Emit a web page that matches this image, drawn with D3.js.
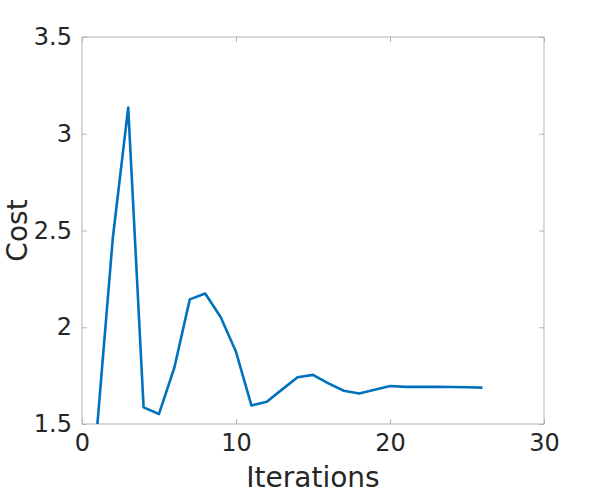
<!DOCTYPE html>
<html><head><meta charset="utf-8">
<script src="https://cdn.jsdelivr.net/npm/d3@7"></script>
<style>body{margin:0;background:#fff}</style>
</head><body><svg id="c" width="600" height="494"></svg>
<script>
const iterations = [1,2,3,4,5,6,7,8,9,10,11,12,13,14,15,16,17,18,19,20,21,22,23,24,25,26];
const cost = [1.50,2.46,3.135,1.586,1.552,1.792,2.144,2.174,2.053,1.873,1.596,1.615,1.679,1.742,1.754,1.71,1.672,1.658,1.677,1.696,1.692,1.692,1.692,1.691,1.690,1.688];
const xTicks = [0,10,20,30];
const yTicks = [1.5,2,2.5,3,3.5];

const svg = d3.select("#c");
const L=82,R=544,T=37,B=424;
const x = d3.scaleLinear().domain([0,30]).range([L,R]);
const y = d3.scaleLinear().domain([1.5,3.5]).range([B,T]);
const font = "DejaVu Sans, sans-serif";
const axisCol = "#b3b3b3", textCol = "#262626";

svg.append("rect").attr("x",L).attr("y",T).attr("width",R-L).attr("height",B-T)
  .attr("fill","#fff").attr("stroke",axisCol).attr("stroke-width",1);

const clip = svg.append("clipPath").attr("id","cl").append("rect")
  .attr("x",L).attr("y",T).attr("width",R-L).attr("height",B-T);

function styleAxis(g){
  g.select(".domain").remove();
  g.selectAll(".tick line").attr("stroke",axisCol);
  g.selectAll(".tick text").attr("fill",textCol).style("font-family",font).style("font-size","24px");
}
svg.append("g").attr("transform",`translate(0,${B})`)
  .call(d3.axisBottom(x).tickValues(xTicks).tickSize(-5).tickPadding(10).tickFormat(d3.format("d")))
  .call(styleAxis);
svg.append("g").attr("transform",`translate(0,${T})`)
  .call(d3.axisTop(x).tickValues(xTicks).tickSize(-5).tickFormat(""))
  .call(styleAxis);
svg.append("g").attr("transform",`translate(${L},0)`)
  .call(d3.axisLeft(y).tickValues(yTicks).tickSize(-5).tickPadding(10).tickFormat(d=>String(d)))
  .call(styleAxis);
svg.append("g").attr("transform",`translate(${R},0)`)
  .call(d3.axisRight(y).tickValues(yTicks).tickSize(-5).tickFormat(""))
  .call(styleAxis);

const line = d3.line().x((d,i)=>x(iterations[i])).y(d=>y(d));
svg.append("path").datum(cost).attr("d",line).attr("fill","none")
  .attr("stroke","#0072BD").attr("stroke-width",2.6).attr("stroke-linejoin","round")
  .attr("clip-path","url(#cl)");

svg.append("text").attr("x",(L+R)/2).attr("y",487).attr("text-anchor","middle")
  .attr("fill",textCol).style("font-family",font).style("font-size","28px").text("Iterations");
svg.append("text").attr("transform",`translate(27,${(T+B)/2}) rotate(-90)`).attr("text-anchor","middle")
  .attr("fill",textCol).style("font-family",font).style("font-size","28px").text("Cost");
</script></body></html>
